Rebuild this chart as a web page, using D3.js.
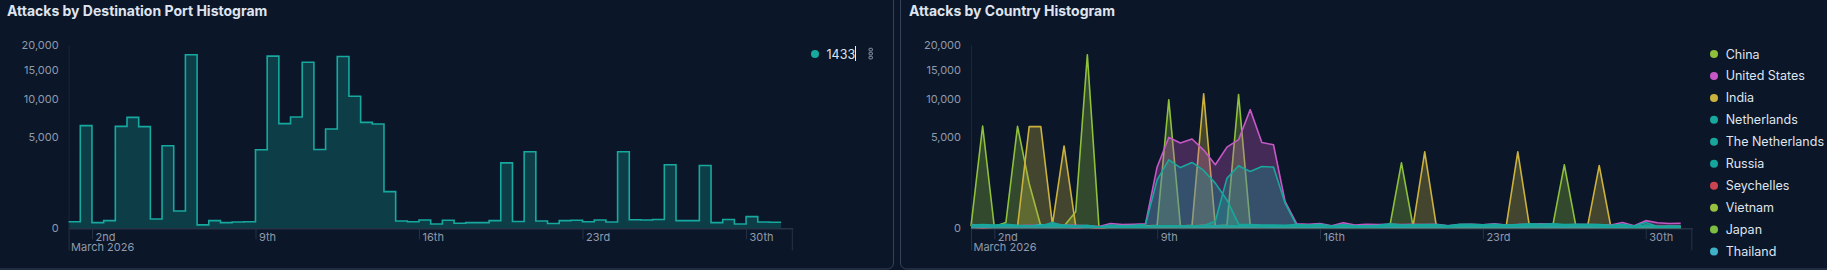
<!DOCTYPE html>
<html>
<head>
<meta charset="utf-8">
<script src="https://cdn.jsdelivr.net/npm/d3@7"></script>
<style>
  body { margin: 0; background: #0b1628; }
  svg { display: block; font-family: Inter, "Noto Sans", sans-serif; }
</style>
</head>
<body>
<svg width="1827" height="270"></svg>
<script>
// 12 hour buckets starting March 1st 2026
const startDate = Date.UTC(2026, 2, 1);
const endDate = Date.UTC(2026, 3, 1);
const bucketMs = 12 * 3600 * 1000;

// Attacks by destination port (only port 1433 in the legend)
const portName = '1433';
const portCounts = [26, 6300, 19, 35, 6200, 7350, 6170, 52, 4070, 180,
  17990, 7, 35, 19, 24, 26, 3680, 17700, 6540, 7400,
  16480, 3710, 5890, 17630, 10410, 6700, 6500, 805, 32, 26,
  41, 11, 38, 15, 19, 19, 35, 2560, 28, 3500,
  32, 14, 35, 38, 26, 41, 24, 3500, 44, 41,
  47, 2410, 35, 35, 2355, 19, 47, 11, 81, 24,
  22];

// Attacks by country
const countries = ['China', 'United States', 'India', 'Netherlands', 'The Netherlands',
  'Russia', 'Seychelles', 'Vietnam', 'Japan', 'Thailand'];
const countryColors = ['#8fc03c', '#c658c6', '#cbb23e', '#17a89e', '#19a69b',
  '#16a59c', '#cc4450', '#96c23f', '#7cbf42', '#3fb2c8'];

const chinaCounts = [3, 6250, 2, 20, 6200, 1200, 3, 4, 3, 165,
  17990, 1, 3, 2, 2, 3, 5, 9850, 4, 3,
  5, 4, 6, 10680, 5, 4, 3, 3, 2, 2,
  3, 1, 2, 1, 2, 2, 3, 2560, 2, 3,
  2, 1, 2, 3, 2, 3, 2, 3, 3, 2,
  3, 2410, 2, 3, 2, 1, 3, 1, 4, 2,
  2, 2];
const usCounts = [8, 5, 3, 6, 4, 5, 4, 12, 6, 5,
  4, 2, 14, 8, 10, 12, 2250, 4930, 4340, 4760,
  3650, 2410, 3940, 4690, 8410, 4400, 4170, 425, 12, 10,
  14, 4, 18, 6, 9, 8, 10, 8, 9, 8,
  10, 4, 8, 10, 7, 12, 6, 8, 10, 12,
  9, 6, 8, 8, 7, 6, 20, 4, 35, 18,
  14, 15];
const indiaCounts = [1, 2, 1, 2, 2, 6170, 6170, 8, 4050, 3,
  2, 1, 2, 1, 2, 2, 3, 4, 3, 5,
  10800, 4, 3, 4, 3, 3, 2, 2, 2, 2,
  3, 1, 2, 1, 2, 1, 4, 2, 3, 3490,
  3, 1, 2, 2, 2, 3, 2, 3490, 3, 2,
  8, 4, 2, 3, 2350, 1, 3, 1, 3, 2,
  2, 2];
const netherlandsCounts = [6, 8, 6, 10, 5, 4, 5, 8, 6, 4,
  5, 1, 6, 4, 5, 8, 1400, 2800, 2200, 2590,
  2000, 1220, 480, 10, 8, 6, 6, 5, 8, 6,
  10, 3, 8, 4, 4, 5, 12, 6, 7, 8,
  8, 4, 9, 10, 7, 10, 6, 8, 12, 10,
  12, 8, 10, 9, 8, 5, 10, 3, 20, 2,
  3, 3];
const theNetherlandsCounts = [2, 3, 2, 4, 2, 3, 2, 4, 2, 3,
  2, 1, 3, 2, 2, 2, 3, 4, 3, 3,
  4, 30, 1500, 2330, 1925, 2280, 2236, 375, 4, 3,
  4, 1, 4, 2, 2, 3, 6, 4, 4, 4,
  5, 2, 6, 7, 5, 6, 4, 4, 8, 7,
  8, 5, 7, 6, 4, 3, 4, 1, 6, 2,
  2, 2];
const russiaCounts = [4, 2, 3, 6, 3, 2, 3, 20, 3, 2,
  3, 1, 3, 1, 2, 1, 3, 3, 2, 3,
  4, 3, 3, 4, 3, 2, 3, 2, 3, 2,
  4, 1, 3, 1, 2, 1, 4, 3, 3, 3,
  3, 1, 3, 4, 3, 4, 2, 3, 4, 3,
  5, 3, 4, 4, 2, 1, 3, 1, 4, 1,
  1, 1];
const seychellesCounts = [1, 0, 1, 2, 1, 1, 1, 3, 1, 0,
  1, 0, 2, 1, 1, 1, 2, 2, 1, 2,
  3, 2, 2, 3, 2, 1, 2, 4, 2, 3,
  4, 1, 3, 2, 2, 2, 3, 5, 6, 3,
  5, 2, 3, 4, 6, 4, 3, 3, 4, 5,
  4, 3, 6, 5, 3, 2, 4, 1, 5, 2,
  2, 2];
const vietnamCounts = [2, 1, 2, 3, 1, 2, 2, 3, 2, 1,
  1, 1, 2, 1, 2, 1, 2, 2, 1, 2,
  2, 2, 3, 2, 1, 2, 1, 2, 2, 1,
  2, 1, 2, 1, 1, 2, 2, 1, 2, 2,
  2, 1, 2, 2, 1, 2, 2, 2, 3, 2,
  3, 2, 2, 2, 1, 1, 2, 1, 2, 1,
  1, 1];
const japanCounts = [2, 1, 1, 2, 1, 1, 1, 2, 1, 1,
  1, 0, 1, 1, 1, 1, 2, 1, 1, 1,
  1, 2, 1, 2, 1, 1, 1, 1, 1, 1,
  2, 1, 1, 1, 1, 1, 2, 1, 1, 1,
  2, 1, 1, 2, 1, 2, 1, 1, 2, 1,
  2, 1, 1, 1, 1, 1, 1, 1, 2, 1,
  1, 1];
const thailandCounts = [2, 1, 2, 3, 4, 2, 8, 3, 2, 1,
  1, 1, 2, 1, 1, 2, 2, 3, 2, 2,
  2, 2, 2, 3, 2, 2, 1, 2, 2, 1,
  2, 1, 2, 1, 1, 1, 2, 1, 2, 2,
  2, 1, 2, 2, 2, 2, 2, 1, 2, 2,
  2, 1, 2, 2, 1, 1, 2, 1, 4, 1,
  1, 1];

const countryCounts = [chinaCounts, usCounts, indiaCounts, netherlandsCounts, theNetherlandsCounts,
  russiaCounts, seychellesCounts, vietnamCounts, japanCounts, thailandCounts];
// painting order, the big teal / magenta humps sit over the green and gold spikes
const drawOrder = ['China', 'India', 'Vietnam', 'Japan', 'Seychelles', 'Thailand',
  'United States', 'Netherlands', 'The Netherlands', 'Russia'];

const yTicks = [0, 5000, 10000, 15000, 20000];

const svg = d3.select('svg');
const axisColor = '#263246';
const labelColor = '#8f9aac';
const textColor = '#dfe4ee';

const y = d3.scaleSqrt().domain([0, 20000]).range([228.3, 45.3]);

function ordinal(d) {
  const n = d.getUTCDate();
  const s = (n % 10 == 1 && n != 11) ? 'st' : (n % 10 == 2 && n != 12) ? 'nd' : (n % 10 == 3 && n != 13) ? 'rd' : 'th';
  return n + s;
}

// panel frames
svg.append('rect')
  .attr('x', -12).attr('y', -12).attr('width', 905.5).attr('height', 281)
  .attr('rx', 6).attr('fill', 'none').attr('stroke', '#34425a');
svg.append('rect')
  .attr('x', 900.5).attr('y', -12).attr('width', 940).attr('height', 281)
  .attr('rx', 6).attr('fill', 'none').attr('stroke', '#34425a');

function drawAxes(g, x) {
  const x0 = x.range()[0], x1 = x.range()[1];
  const y0 = y(0);

  g.append('line')
    .attr('x1', x0 + 0.5).attr('x2', x0 + 0.5)
    .attr('y1', y(20000)).attr('y2', y0)
    .attr('stroke', '#1b2638');

  const yAxis = g.append('g')
    .attr('transform', `translate(${x0},0)`)
    .call(d3.axisLeft(y).tickValues(yTicks).tickSize(0).tickPadding(10).tickFormat(d3.format(',')));
  yAxis.select('.domain').remove();
  yAxis.selectAll('text')
    .attr('fill', labelColor)
    .style('font-size', '11px')
    .style('font-family', 'Inter, sans-serif');

  const mondays = x.ticks(d3.utcMonday);
  const xAxis = g.append('g')
    .attr('transform', `translate(0,${y0})`)
    .call(d3.axisBottom(x).tickValues(mondays).tickSize(11).tickSizeOuter(0).tickFormat(ordinal));
  xAxis.select('.domain').attr('stroke', axisColor).attr('stroke-width', 1.5);
  xAxis.selectAll('.tick line').attr('stroke', axisColor);
  xAxis.selectAll('.tick text')
    .attr('fill', labelColor)
    .attr('text-anchor', 'start')
    .attr('x', 3).attr('y', 12.3).attr('dy', 0)
    .style('font-size', '11px')
    .style('font-family', 'Inter, sans-serif');

  // long start / end marks
  g.append('line')
    .attr('x1', x0 + 0.5).attr('x2', x0 + 0.5).attr('y1', y0).attr('y2', y0 + 22)
    .attr('stroke', axisColor);
  g.append('line')
    .attr('x1', x1 - 0.5).attr('x2', x1 - 0.5).attr('y1', y0).attr('y2', y0 + 22)
    .attr('stroke', axisColor);
  g.append('text')
    .attr('x', x0 + 2.5).attr('y', y0 + 23)
    .attr('fill', labelColor)
    .style('font-size', '11px')
    .text('March 2026');
}

// ---------- left: destination port histogram ----------
const left = svg.append('g');
left.append('text')
  .attr('x', 7).attr('y', 15.7)
  .attr('fill', textColor)
  .style('font-size', '14px').style('font-weight', 700)
  .text('Attacks by Destination Port Histogram');

const xL = d3.scaleUtc().domain([startDate, endDate]).range([68.6, 792.8]);

const portData = portCounts.map((v, i) => ({ t: startDate + i * bucketMs, v: v }));
portData.push({ t: startDate + portCounts.length * bucketMs, v: portCounts[portCounts.length - 1] });

const portColor = '#17a89e';
left.append('path')
  .datum(portData)
  .attr('fill', portColor).attr('fill-opacity', 0.28)
  .attr('d', d3.area().curve(d3.curveStepAfter)
    .x(d => xL(d.t)).y0(y(0)).y1(d => y(d.v)));

drawAxes(left, xL);

left.append('path')
  .datum(portData)
  .attr('fill', 'none').attr('stroke', portColor).attr('stroke-width', 1.6)
  .attr('d', d3.line().curve(d3.curveStepAfter)
    .x(d => xL(d.t)).y(d => y(d.v)));

// legend
left.append('circle').attr('cx', 815).attr('cy', 54).attr('r', 4).attr('fill', portColor);
left.append('text')
  .attr('x', 826.5).attr('y', 58.5)
  .attr('fill', textColor).style('font-size', '12.5px')
  .text(portName);
left.append('line')
  .attr('x1', 855.5).attr('x2', 855.5).attr('y1', 46).attr('y2', 61)
  .attr('stroke', '#e8ecf2');
[49.5, 53.5, 57.5].forEach(cy => {
  left.append('rect')
    .attr('x', 869).attr('y', cy - 1.2).attr('width', 3.4).attr('height', 2.6)
    .attr('rx', 0.8).attr('fill', 'none').attr('stroke', '#9aa4b5').attr('stroke-width', 0.9);
});

// ---------- right: country histogram ----------
const right = svg.append('g');
right.append('text')
  .attr('x', 909).attr('y', 15.7)
  .attr('fill', textColor)
  .style('font-size', '14px').style('font-weight', 700)
  .text('Attacks by Country Histogram');

const xR = d3.scaleUtc().domain([startDate, endDate]).range([971, 1692.3]);

drawAxes(right, xR);

const series = countries.map((name, k) => ({
  name: name,
  color: countryColors[k],
  values: countryCounts[k].map((v, i) => ({ t: startDate + i * bucketMs, v: v }))
}));

const area = d3.area().x(d => xR(d.t)).y0(y(0)).y1(d => y(d.v));
const line = d3.line().x(d => xR(d.t)).y(d => y(d.v));

drawOrder.forEach(name => {
  const s = series.find(s => s.name == name);
  right.append('path')
    .attr('fill', s.color).attr('fill-opacity', 0.3)
    .attr('d', area(s.values));
  right.append('path')
    .attr('fill', 'none').attr('stroke', s.color).attr('stroke-width', 1.6)
    .attr('stroke-linejoin', 'round')
    .attr('d', line(s.values));
});

const legend = right.append('g')
  .selectAll('g')
  .data(series)
  .enter().append('g')
  .attr('transform', (d, i) => `translate(1714,${54 + i * 21.95})`);
legend.append('circle').attr('r', 4).attr('fill', d => d.color);
legend.append('text')
  .attr('x', 11.7).attr('y', 4.5)
  .attr('fill', textColor).style('font-size', '12.5px')
  .text(d => d.name);
</script>
</body>
</html>
